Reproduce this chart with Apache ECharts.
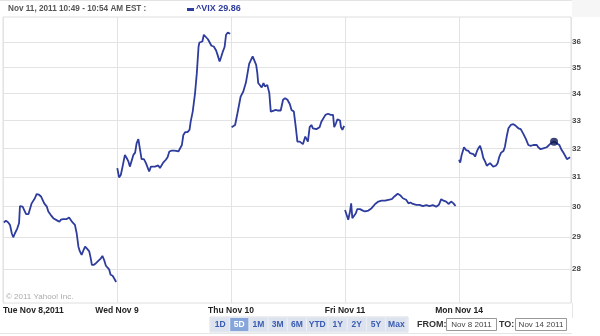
<!DOCTYPE html>
<html><head><meta charset="utf-8">
<script src="https://cdn.jsdelivr.net/npm/echarts@6/dist/echarts.min.js"></script>
<style>html,body{margin:0;padding:0;background:#fff}#c{width:600px;height:336px}</style>
</head><body><div id="c"></div>
<script>
// ---- data (minute of trading day since 9:30, VIX value) ----
const dayLabels = ['Tue Nov 8,2011', 'Wed Nov 9', 'Thu Nov 10', 'Fri Nov 11', 'Mon Nov 14'];
const yTicks = [28, 29, 30, 31, 32, 33, 34, 35, 36];
const tue = [[3,29.48],[10,29.54],[18,29.48],[24,29.40],[30,29.13],[35,29.00],[41,29.13],[49,29.29],[55,29.46],[58,30.02],[67,30.00],[73,29.95],[79,29.75],[87,29.75],[92,29.78],[98,30.11],[104,30.17],[109,30.28],[115,30.42],[123,30.40],[130,30.34],[134,30.36],[141,30.11],[150,30.00],[155,29.84],[163,29.73],[172,29.62],[178,29.59],[186,29.54],[193,29.50],[198,29.57],[206,29.59],[212,29.53],[218,29.59],[226,29.64],[232,29.59],[238,29.48],[246,29.40],[252,29.13],[258,28.70],[263,28.55],[269,28.44],[275,28.58],[281,28.70],[288,28.63],[295,28.55],[300,28.34],[304,28.13],[311,28.13],[318,28.18],[326,28.25],[334,28.32],[340,28.41],[346,28.28],[352,28.10],[357,28.09],[363,27.99],[368,27.82],[375,27.79],[381,27.70],[387,27.60]];
const wed = [[1,31.31],[7,30.99],[13,31.07],[19,31.36],[27,31.77],[33,31.66],[39,31.54],[44,31.36],[50,31.34],[56,31.77],[62,31.85],[67,32.18],[73,32.33],[79,31.94],[84,31.62],[92,31.62],[99,31.48],[105,31.45],[110,31.19],[116,31.36],[122,31.39],[130,31.36],[135,31.31],[141,31.40],[147,31.31],[153,31.31],[158,31.50],[167,31.60],[173,31.69],[179,31.89],[187,31.92],[195,31.92],[202,31.91],[210,31.89],[216,31.86],[222,32.12],[227,32.48],[233,32.58],[241,32.58],[248,32.66],[252,32.96],[259,33.33],[267,34.02],[273,34.78],[279,35.82],[282,35.98],[287,35.93],[292,36.02],[297,36.29],[303,36.25],[311,36.11],[317,35.98],[323,35.85],[331,35.82],[339,35.66],[344,35.49],[351,35.23],[356,35.40],[362,35.62],[368,35.80],[373,36.29],[379,36.38],[387,36.33]];
const thu = [[2,32.76],[14,32.84],[22,33.27],[33,33.89],[42,34.08],[51,34.42],[56,34.42],[62,35.14],[67,35.10],[74,35.43],[80,35.36],[86,35.10],[90,34.78],[93,34.40],[99,34.37],[105,34.23],[111,34.40],[116,34.27],[124,34.33],[131,34.02],[136,33.33],[144,33.36],[153,33.39],[161,33.37],[170,33.37],[178,33.77],[185,33.83],[193,33.77],[201,33.61],[207,33.39],[215,33.33],[222,32.72],[227,32.24],[235,32.24],[241,32.21],[246,32.15],[254,32.42],[260,32.48],[263,32.24],[269,32.76],[275,32.84],[280,32.72],[286,32.76],[292,32.69],[297,32.76],[303,32.76],[309,32.96],[315,32.90],[323,33.21],[332,33.25],[341,33.21],[349,33.21],[353,32.76],[359,32.90],[364,33.05],[373,33.00],[376,32.76],[381,32.66],[387,32.81]];
const fri = [[0,29.89],[6,29.84],[11,29.57],[17,29.84],[21,30.11],[25,29.62],[31,29.65],[37,29.78],[42,29.92],[51,29.92],[61,29.87],[68,29.84],[80,29.87],[91,29.95],[103,30.09],[114,30.17],[125,30.20],[137,30.20],[148,30.23],[160,30.25],[169,30.34],[180,30.43],[190,30.37],[198,30.28],[209,30.23],[217,30.11],[224,30.14],[232,30.09],[244,30.06],[255,30.06],[266,30.02],[278,30.05],[289,30.02],[300,30.05],[312,30.00],[321,30.06],[329,30.25],[337,30.20],[346,30.17],[354,30.09],[363,30.17],[371,30.11],[378,30.02]];
const mon = [[0,31.60],[4,31.50],[9,31.77],[17,32.04],[24,31.94],[32,31.91],[38,31.83],[44,31.85],[49,31.80],[55,31.71],[61,31.89],[66,32.00],[72,32.09],[78,31.89],[83,31.66],[89,31.54],[95,31.39],[100,31.45],[106,31.48],[112,31.42],[117,31.36],[126,31.39],[132,31.48],[138,31.71],[144,31.85],[152,31.91],[157,32.06],[163,32.42],[169,32.72],[177,32.84],[186,32.87],[194,32.81],[203,32.72],[211,32.69],[220,32.52],[229,32.33],[237,32.12],[245,32.09],[254,32.12],[266,32.12],[271,32.04],[279,31.97],[288,32.00],[300,32.04],[311,32.15],[318,32.21],[325,32.24],[334,32.18],[343,32.12],[351,31.94],[357,31.85],[363,31.74],[369,31.62],[374,31.60],[380,31.69]];
const markerIndex = 46; // hovered point on the Mon series
const buttonLabels = ['1D', '5D', '1M', '3M', '6M', 'YTD', '1Y', '2Y', '5Y', 'Max'];
const activeButton = '5D';
const titleText = 'Nov 11, 2011 10:49 - 10:54 AM EST :';
const legendText = '^VIX 29.86';
const fromText = 'Nov 8 2011';
const toText = 'Nov 14 2011';

// ---- build ----
const DAY = 390;
const days = [tue, wed, thu, fri, mon];
const lineData = [];
days.forEach((arr, d) => {
  arr.forEach(([m, v]) => lineData.push([d * DAY + m, Math.log(v)]));
  if (d < days.length - 1) lineData.push([d * DAY + DAY - 1, '-']);
});
const mp = mon[markerIndex];
const markerData = [[4 * DAY + mp[0], Math.log(mp[1])]];

const BLUE = '#2d3c9d';
const FONT = '"Liberation Sans", Arial, sans-serif';

const graphics = [];
graphics.push({type: 'rect', shape: {x: 0, y: 0, width: 600, height: 1}, style: {fill: '#e4e4e4'}, silent: true});
graphics.push({type: 'rect', shape: {x: 572, y: 0, width: 28, height: 17}, style: {fill: '#f6f6f6'}, silent: true});
graphics.push({type: 'text', left: 8, top: 5, style: {text: titleText, fill: '#555', font: 'bold 8.2px ' + FONT}});
graphics.push({type: 'rect', shape: {x: 187, y: 8, width: 7, height: 3}, style: {fill: BLUE}});
graphics.push({type: 'text', left: 196, top: 4, style: {text: legendText, fill: BLUE, font: 'bold 9px ' + FONT}});
graphics.push({type: 'text', left: 6, top: 293, style: {text: '\u00a9 2011 Yahoo! Inc.', fill: '#aaa', font: '8px ' + FONT}});
graphics.push({type: 'rect', shape: {x: 0, y: 333, width: 572, height: 1}, style: {fill: '#e6e6e6'}});
graphics.push({type: 'rect', shape: {x: 572, y: 303, width: 1, height: 15}, style: {fill: '#e6e6e6'}});
// buttons
let bx = 211;
graphics.push({type: 'rect', shape: {x: 210, y: 317, width: 198, height: 15}, style: {fill: '#eef1f6', stroke: '#d8dde6', lineWidth: 1}});
buttonLabels.forEach(lbl => {
  const w = lbl.length > 2 ? 21.5 : 19.2;
  const active = lbl === activeButton;
  graphics.push({type: 'rect', shape: {x: bx, y: 318, width: w - 1, height: 13},
    style: {fill: active ? '#86a5da' : '#dce3ee'}});
  graphics.push({type: 'text', x: bx + (w - 1) / 2, y: 325, style: {text: lbl, fill: active ? '#fff' : '#3a5cb2',
    font: 'bold 8.5px ' + FONT, align: 'center', verticalAlign: 'middle'}});
  bx += w;
});
graphics.push({type: 'text', x: 417, y: 325, style: {text: 'FROM:', fill: '#333', font: 'bold 9px ' + FONT, verticalAlign: 'middle'}});
graphics.push({type: 'rect', shape: {x: 446.5, y: 318.5, width: 50, height: 12}, style: {fill: '#fff', stroke: '#999', lineWidth: 1}});
graphics.push({type: 'text', x: 471.5, y: 325, style: {text: fromText, fill: '#444', font: '8px ' + FONT, align: 'center', verticalAlign: 'middle'}});
graphics.push({type: 'text', x: 499, y: 325, style: {text: 'TO:', fill: '#333', font: 'bold 9px ' + FONT, verticalAlign: 'middle'}});
graphics.push({type: 'rect', shape: {x: 515.5, y: 318.5, width: 51, height: 12}, style: {fill: '#fff', stroke: '#999', lineWidth: 1}});
graphics.push({type: 'text', x: 541, y: 325, style: {text: toText, fill: '#444', font: '8px ' + FONT, align: 'center', verticalAlign: 'middle'}});

const chart = echarts.init(document.getElementById('c'), null, {renderer: 'canvas'});
chart.setOption({
  animation: false,
  backgroundColor: '#fff',
  grid: {left: 3, right: 29, top: 17, bottom: 33, show: true, borderColor: '#dedede', borderWidth: 1, containLabel: false},
  xAxis: {
    type: 'value', min: 0, max: 1943, interval: DAY,
    axisLine: {show: false}, axisTick: {show: false},
    splitLine: {show: true, lineStyle: {color: '#e3e3e3', width: 1}},
    axisLabel: {
      margin: 3, color: '#222', fontWeight: 'bold', fontSize: 8.5, fontFamily: FONT,
      alignMinLabel: 'left', showMaxLabel: false,
      formatter: v => dayLabels[Math.round(v / DAY)] || ''
    }
  },
  yAxis: {
    type: 'value', position: 'right',
    min: Math.log(26.965), max: Math.log(37.01),
    axisLine: {show: false},
    axisTick: {show: false, customValues: yTicks.map(Math.log)},
    splitLine: {show: true, lineStyle: {color: '#e3e3e3', width: 1}},
    axisLabel: {
      customValues: yTicks.map(Math.log), margin: 1,
      color: '#444', fontWeight: 'bold', fontSize: 8, fontFamily: FONT,
      formatter: v => String(Math.round(Math.exp(v)))
    }
  },
  graphic: graphics,
  series: [
    {type: 'line', data: lineData, showSymbol: false, connectNulls: false,
     lineStyle: {color: BLUE, width: 1.8}, itemStyle: {color: BLUE}, z: 3},
    {type: 'scatter', data: markerData, symbolSize: 8, itemStyle: {color: '#0c1652'}, z: 4}
  ]
});
</script></body></html>
